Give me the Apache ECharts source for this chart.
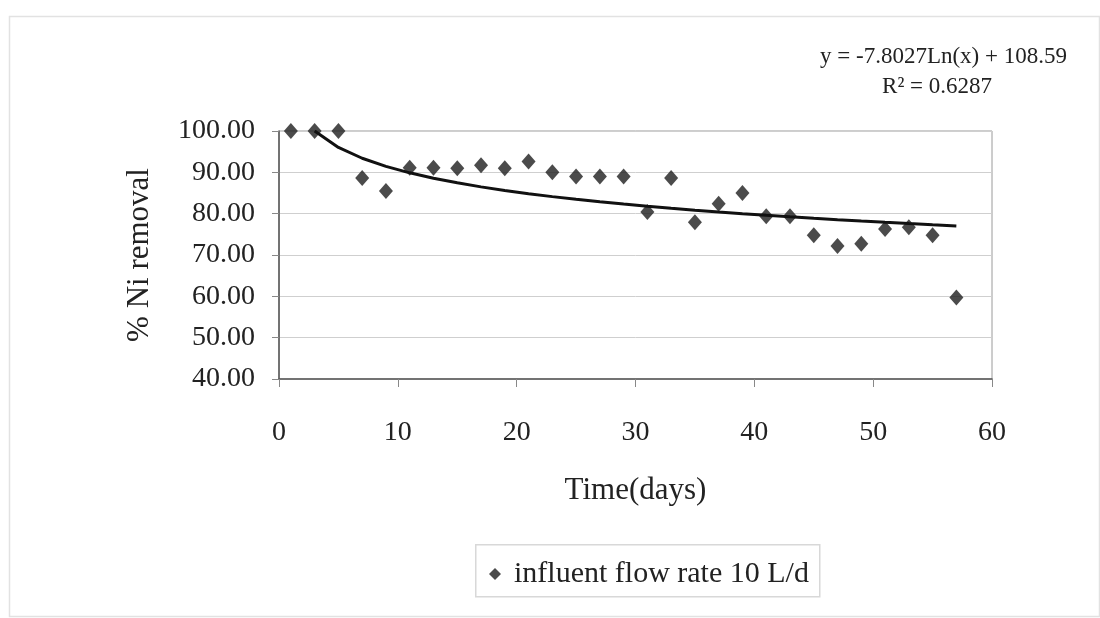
<!DOCTYPE html>
<html>
<head>
<meta charset="utf-8">
<script src="https://cdn.jsdelivr.net/npm/echarts@6/dist/echarts.min.js"></script>
<style>
html,body{margin:0;padding:0;background:#fff;}
#chart{width:1100px;height:618px;}
</style>
</head>
<body>
<div id="chart"></div>
<script>
// Data
const days = [1,3,5,7,9,11,13,15,17,19,21,23,25,27,29,31,33,35,37,39,41,43,45,47,49,51,53,55,57];
const niRemoval = [100,100,100,88.6,85.5,91.1,91.1,91.0,91.7,91.0,92.6,90.0,89.0,89.0,89.0,80.4,88.6,77.9,82.4,85.0,79.4,79.4,74.8,72.2,72.7,76.3,76.7,74.8,59.7];
// Trendline as printed on the chart: y = -7.8027 Ln(x) + 108.59
const trendA = -7.8027;
const trendB = 108.59;
const trendDays = [3,5,7,9,11,13,15,17,19,21,23,25,27,29,31,33,35,37,39,41,43,45,47,49,51,53,55,57];
const yTicks = [40,50,60,70,80,90,100];
const xTicks = [0,10,20,30,40,50,60];
const seriesName = 'influent flow rate 10 L/d';
const eqText = 'y = -7.8027Ln(x) + 108.59';
const r2Text = 'R\u00B2 = 0.6287';

const FONT = '"Liberation Serif", "DejaVu Serif", serif';
const chart = echarts.init(document.getElementById('chart'));

const trendData = trendDays.map(d => [d, trendA * Math.log(d) + trendB]);

chart.setOption({
  animation: false,
  backgroundColor: '#fff',
  grid: {
    left: 279, right: 108, top: 131, bottom: 239,
    show: true, borderColor: '#9a9a9a', borderWidth: 1, backgroundColor: 'transparent'
  },
  xAxis: {
    type: 'value', min: xTicks[0], max: xTicks[xTicks.length-1], interval: 10,
    name: 'Time(days)', nameLocation: 'middle', nameGap: 96,
    nameTextStyle: {fontFamily: FONT, fontSize: 31, color: '#222'},
    axisLine: {show: true, lineStyle: {color: '#555', width: 1.5}},
    axisTick: {show: true, length: 8, lineStyle: {color: '#888'}},
    axisLabel: {fontFamily: FONT, fontSize: 28, color: '#222', margin: 40},
    splitLine: {show: false}
  },
  yAxis: {
    type: 'value', min: yTicks[0], max: yTicks[yTicks.length-1], interval: 10,
    name: '% Ni removal', nameLocation: 'middle', nameGap: 124, nameRotate: 90,
    nameTextStyle: {fontFamily: FONT, fontSize: 31, color: '#222'},
    axisLine: {show: true, lineStyle: {color: '#555', width: 1.5}},
    axisTick: {show: true, length: 7, lineStyle: {color: '#888'}},
    axisLabel: {fontFamily: FONT, fontSize: 28, color: '#222', margin: 24,
      formatter: v => v.toFixed(2)},
    splitLine: {show: true, lineStyle: {color: '#cfcfcf', width: 1}}
  },
  legend: {
    data: [seriesName],
    left: 484, top: 554,
    icon: 'diamond', itemWidth: 12, itemHeight: 12, itemGap: 8,
    textStyle: {fontFamily: FONT, fontSize: 30, color: '#222', padding: [0, 0, 0, 8]}
  },
  graphic: [
    {type: 'rect', left: 7, top: 14, shape: {width: 1090, height: 600},
     style: {fill: 'none', stroke: '#e2e2e2', lineWidth: 1.5}, silent: true, z: -10},
    {type: 'rect', left: 475, top: 544, shape: {width: 344, height: 52},
     style: {fill: '#fff', stroke: '#d8d8d8', lineWidth: 1.5}, silent: true, z: -5},
    {type: 'text', right: 1100 - 1067, top: 45,
     style: {text: eqText, fontFamily: FONT, fontSize: 23, fill: '#222', align: 'right'}},
    {type: 'text', right: 1100 - 992, top: 75,
     style: {text: r2Text, fontFamily: FONT, fontSize: 23, fill: '#222', align: 'right'}}
  ],
  series: [
    {
      name: seriesName, type: 'scatter', data: days.map((d, i) => [d, niRemoval[i]]),
      symbol: 'diamond', symbolSize: [14, 16],
      itemStyle: {color: '#1e1e1e'}, z: 3
    },
    {
      name: 'trend', type: 'line', data: trendData, showSymbol: false, symbol: 'none',
      smooth: false, lineStyle: {color: '#111', width: 3}, z: 4, clip: true
    }
  ]
});
</script>
</body>
</html>
